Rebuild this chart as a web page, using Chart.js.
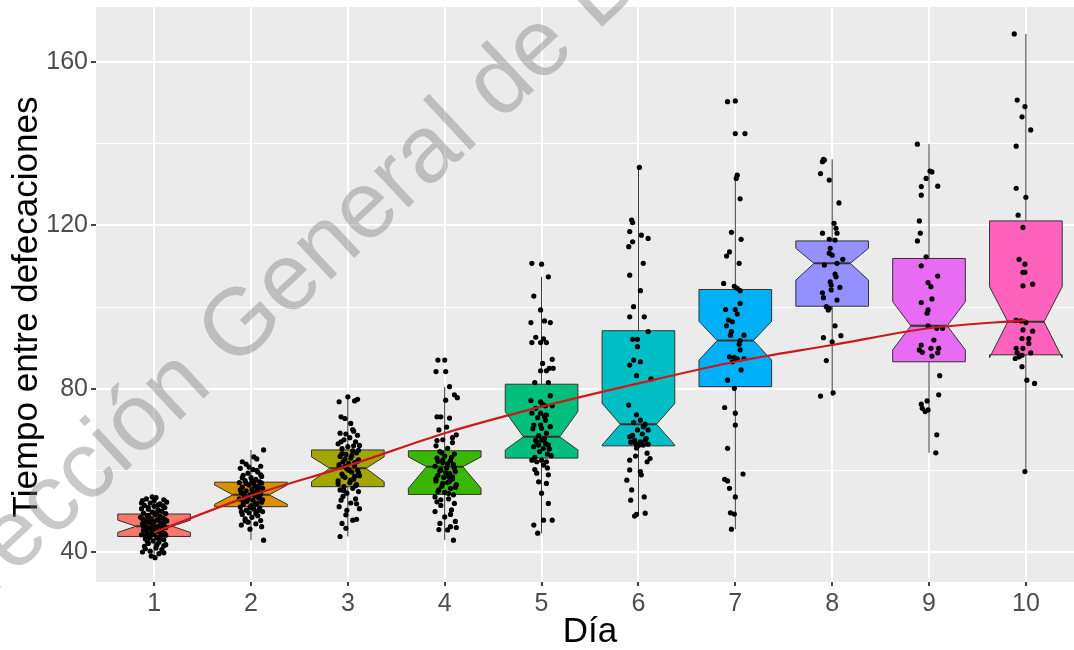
<!DOCTYPE html>
<html>
<head>
<meta charset="utf-8">
<script src="https://cdn.jsdelivr.net/npm/chart.js@4.4.1/dist/chart.umd.min.js"></script>
<style>
  html, body { margin: 0; padding: 0; background: #fff; overflow: hidden; }
  #wrap { position: relative; width: 1088px; height: 650px; }
  #ytitle {
    position: absolute; left: 25px; top: 307px;
    transform: translate(-50%, -50%) rotate(-90deg);
    font: 35px "Liberation Sans", Arial, sans-serif; color: #000; white-space: nowrap;
  }
  #wm {
    position: absolute; left: -130px; top: 600px;
    transform-origin: 0 0; transform: rotate(-43deg);
    font: 95px/1 "Liberation Sans", Arial, sans-serif; color: rgba(120,120,120,.4);
    white-space: nowrap; pointer-events: none;
  }
</style>
</head>
<body>
<div id="wrap">
  <canvas id="c"></canvas>
  <div id="ytitle">Tiempo entre defecaciones</div>
  <div id="wm">Dirección General de Bibliotecas</div>
</div>
<script>
// ── Data ────────────────────────────────────────────────
const days = [1, 2, 3, 4, 5, 6, 7, 8, 9, 10];
const yTicks = [40, 60, 80, 100, 120, 140, 160];
const yMajor = [40, 80, 120, 160];

const boxLow    = [43.8, 51.1, 56.0, 54.1, 63.0, 66.0, 80.5, 100.2, 86.6, 88.3];
const boxHigh   = [49.3, 57.1, 65.0, 64.8, 81.1, 94.2, 104.3, 116.2, 111.9, 121.1];
const medians   = [46.3, 54.0, 60.5, 60.9, 68.2, 71.3, 91.8, 110.7, 95.4, 96.4];
const notchLow  = [44.8, 51.7, 57.2, 55.6, 65.0, 66.2, 87.0, 106.6, 89.5, 87.6];
const notchHigh = [47.8, 56.4, 63.3, 63.3, 74.4, 76.4, 96.5, 114.4, 101.3, 105.0];
const whiskLow  = [38.6, 42.9, 43.8, 42.9, 44.6, 49.3, 45.6, 78.2, 64.3, 59.7];
const whiskHigh = [53.5, 65.0, 78.0, 80.5, 107.4, 134.2, 132.3, 136.2, 139.9, 166.9];

const smoothY = [44.8, 53.8, 61.1, 69.1, 75.6, 81.3, 86.6, 90.7, 94.8, 96.8];

// jittered observations: [offset from day, value]
const day1Pts = [[-0.08,53.0],[0.02,53.3],[-0.12,52.6],[0.10,52.8],[0.13,52.2],[-0.04,52.0],[0.06,51.8],[-0.10,51.4],[0.00,51.2],[0.11,50.9],[-0.13,50.6],[-0.06,50.5],[0.04,50.3],[0.08,50.0],[-0.02,49.8],[-0.11,49.5],[0.12,49.4],[0.01,49.1],[-0.07,48.9],[0.06,48.7],[-0.14,48.5],[0.09,48.3],[-0.03,48.1],[0.03,47.9],[-0.09,47.7],[0.13,47.6],[0.00,47.4],[-0.05,47.2],[0.07,47.0],[-0.12,46.9],[0.10,46.7],[-0.01,46.5],[0.04,46.3],[-0.08,46.1],[0.12,46.0],[-0.04,45.8],[0.02,45.6],[0.08,45.4],[-0.11,45.3],[-0.02,45.1],[0.05,44.9],[-0.07,44.7],[0.11,44.5],[0.00,44.3],[-0.13,44.2],[0.07,44.0],[-0.04,43.8],[0.03,43.5],[-0.09,43.2],[0.10,43.0],[-0.01,42.7],[0.05,42.4],[-0.06,42.1],[0.12,41.8],[-0.10,41.4],[0.02,41.0],[0.08,40.6],[-0.04,40.2],[-0.12,40.0],[0.05,39.6],[-0.03,39.0],[0.01,38.6],[-0.06,49.0],[0.09,45.8],[-0.09,44.0],[0.04,51.5],[0.10,41.5],[-0.02,53.5],
  [-0.10,47.0],[0.05,47.7],[-0.05,48.4],[0.11,48.0],[0.02,46.0],[-0.08,45.5],[0.07,45.1],[-0.02,44.6],[0.12,44.1],[-0.11,46.3],[0.03,49.6],[-0.06,50.9],[0.09,51.3],[-0.13,52.0],[0.00,52.5],[0.06,43.2],[-0.07,42.6],[0.03,41.8],[-0.09,40.8],[0.10,39.8],[-0.03,47.8],[0.08,46.9],[-0.12,48.1],[0.01,45.4],[-0.05,43.5]];
const day2Pts = [[0.13,65.0],[-0.09,62.1],[0.03,63.3],[0.06,62.8],[-0.05,61.5],[0.10,61.0],[-0.11,60.5],[0.02,60.2],[0.07,59.6],[-0.03,59.3],[-0.08,58.8],[0.11,58.5],[0.00,58.2],[0.05,57.8],[-0.06,57.5],[0.09,57.2],[-0.12,57.0],[0.03,56.7],[-0.02,56.4],[0.08,56.1],[-0.09,55.9],[0.12,55.6],[0.01,55.3],[-0.05,55.0],[0.06,54.8],[-0.10,54.5],[0.10,54.3],[-0.01,54.0],[0.04,53.7],[-0.07,53.5],[0.08,53.2],[-0.12,53.0],[0.02,52.7],[-0.04,52.4],[0.11,52.2],[0.06,51.9],[-0.08,51.6],[0.00,51.3],[-0.11,51.0],[0.09,50.8],[0.03,50.5],[-0.05,50.2],[0.12,49.9],[-0.02,49.6],[-0.09,49.2],[0.07,48.9],[0.01,48.5],[-0.06,48.1],[0.10,47.7],[-0.03,47.3],[-0.10,46.6],[0.05,46.9],[0.11,46.2],[-0.01,45.6],[0.13,42.9],[0.04,56.0],[-0.07,54.2],
  [-0.05,56.8],[0.07,55.3],[-0.11,55.2],[0.02,54.6],[0.09,53.8],[-0.03,53.1],[0.12,52.8],[-0.08,52.2],[0.04,51.7],[-0.01,50.9],[0.08,50.2],[-0.10,49.9],[0.05,49.4],[-0.06,47.6],[0.10,58.9],[-0.02,60.8],[0.06,60.0],[-0.09,58.2],[0.01,57.4],[0.11,56.9]];
const day3Pts = [[0.00,78.0],[-0.09,76.8],[0.07,77.0],[0.10,77.4],[-0.07,73.1],[-0.03,72.7],[0.05,70.0],[-0.08,69.1],[0.10,68.6],[0.02,68.0],[-0.04,67.5],[0.08,67.0],[-0.10,66.5],[0.12,66.1],[0.00,65.8],[-0.06,65.3],[0.05,64.8],[0.09,64.3],[-0.02,63.9],[-0.08,63.4],[0.03,63.0],[0.11,62.6],[-0.05,62.1],[0.01,61.7],[0.07,61.2],[-0.09,60.8],[-0.01,60.4],[0.10,60.0],[0.04,59.6],[-0.06,59.1],[0.12,58.7],[-0.03,58.3],[0.06,57.8],[-0.10,57.4],[0.02,57.0],[0.09,56.5],[-0.04,56.0],[-0.08,55.2],[0.05,55.6],[0.11,54.8],[-0.01,54.4],[-0.05,53.6],[0.08,53.0],[-0.07,52.7],[0.03,52.0],[-0.09,51.1],[0.12,50.6],[-0.02,49.1],[0.05,47.8],[0.09,48.0],[-0.06,47.0],[-0.02,45.8],[-0.08,43.8],[0.06,66.0],[-0.03,61.0],[0.07,58.5],
  [-0.06,64.1],[0.04,63.6],[0.10,62.2],[-0.03,62.7],[0.07,61.9],[-0.09,61.4],[0.01,60.0],[0.11,59.4],[-0.05,58.6],[0.03,57.6],[-0.10,56.7],[0.08,56.2],[-0.02,68.9],[0.06,69.6],[-0.07,67.0],[0.03,71.5],[0.11,64.9],[-0.04,55.0],[0.09,51.8],[-0.01,50.2]];
const day4Pts = [[-0.07,87.0],[0.00,87.0],[-0.09,84.2],[0.01,84.2],[0.05,80.5],[0.10,78.5],[0.13,77.8],[0.01,77.2],[-0.08,73.1],[-0.04,73.1],[0.05,72.8],[-0.06,69.9],[0.12,68.7],[-0.02,67.5],[0.08,66.8],[-0.09,66.0],[0.03,65.4],[-0.05,64.6],[0.10,64.0],[0.00,63.5],[-0.08,63.0],[0.06,62.4],[-0.02,61.9],[0.09,61.4],[-0.10,61.0],[0.02,60.6],[-0.04,60.1],[0.11,59.7],[0.05,59.2],[-0.07,58.8],[-0.01,58.3],[0.08,57.9],[-0.09,57.4],[0.03,57.0],[0.12,56.5],[-0.03,56.1],[0.06,55.6],[-0.06,55.2],[0.00,54.6],[0.09,54.0],[-0.10,53.5],[0.04,53.0],[-0.08,52.3],[0.10,51.9],[-0.04,51.4],[-0.10,49.9],[0.07,50.3],[0.00,48.6],[0.11,47.5],[0.06,46.2],[0.03,45.4],[-0.05,47.0],[0.09,42.9],[0.12,46.0],[-0.02,62.5],[0.04,58.5],
  [-0.03,64.3],[0.07,63.2],[-0.07,62.2],[0.03,61.6],[0.10,60.6],[-0.05,59.9],[0.01,59.4],[0.08,58.4],[-0.09,58.0],[0.05,57.3],[-0.02,56.8],[0.11,55.8],[-0.07,54.8],[0.04,54.3],[-0.04,52.8],[0.08,68.0],[-0.08,67.3],[0.02,70.6],[0.06,49.2],[-0.06,45.5]];
const day5Pts = [[-0.10,110.7],[0.00,110.5],[0.07,107.4],[-0.08,102.7],[-0.01,99.3],[0.03,96.6],[-0.11,96.2],[0.09,96.2],[-0.06,92.6],[0.02,92.2],[-0.10,91.3],[-0.01,91.3],[0.05,91.3],[0.11,87.2],[0.01,86.2],[0.08,85.0],[-0.01,84.4],[0.05,84.4],[0.12,85.0],[-0.07,81.5],[0.07,81.5],[-0.11,77.1],[-0.01,76.8],[0.04,75.8],[0.11,75.8],[-0.06,75.2],[-0.10,74.0],[-0.01,74.0],[0.04,72.3],[-0.08,71.1],[-0.01,71.1],[0.00,70.3],[0.09,70.7],[0.05,69.1],[-0.06,67.4],[0.00,67.4],[0.04,66.6],[-0.03,66.2],[0.07,66.2],[-0.08,65.8],[0.02,65.4],[-0.10,62.5],[-0.05,62.1],[0.00,62.5],[0.05,62.1],[0.02,61.3],[-0.05,59.3],[0.07,58.9],[-0.03,57.2],[0.05,56.8],[0.00,54.4],[0.07,51.9],[-0.08,46.6],[0.02,47.8],[0.11,47.8],[-0.04,44.6],[-0.03,68.5],[0.06,64.0],[-0.07,60.2],[0.03,73.2],
  [0.03,67.8],[-0.05,66.9],[0.08,65.2],[-0.02,64.6],[0.10,63.6],[-0.07,63.2],[0.05,73.6],[-0.04,72.9],[0.01,76.2],[0.09,78.3],[-0.09,70.2],[0.06,60.6]];
const day6Pts = [[0.01,134.2],[-0.07,121.3],[-0.06,120.7],[-0.09,118.5],[0.03,117.6],[0.10,116.8],[-0.10,114.8],[-0.06,116.0],[0.05,110.7],[-0.09,107.8],[0.02,104.0],[-0.05,100.1],[-0.09,97.6],[0.06,97.6],[0.10,94.0],[-0.06,92.1],[-0.01,92.1],[-0.01,90.3],[-0.05,87.0],[0.02,86.6],[-0.09,85.8],[-0.02,83.2],[0.13,82.4],[-0.10,76.0],[-0.02,73.6],[0.02,72.3],[-0.05,71.7],[0.07,71.3],[-0.01,69.9],[0.10,69.9],[-0.09,68.2],[-0.04,67.4],[0.02,67.0],[0.07,67.4],[-0.03,66.6],[0.05,66.2],[0.10,66.4],[0.09,64.2],[0.12,62.9],[0.09,62.1],[-0.09,62.5],[-0.09,60.1],[0.02,59.7],[0.03,58.9],[-0.12,57.6],[-0.07,55.2],[-0.08,52.7],[0.06,53.5],[-0.04,48.8],[-0.02,49.2],[0.07,49.5],
  [-0.06,68.6],[0.04,68.9],[0.00,66.0],[-0.08,66.9],[0.08,67.8],[-0.02,65.5],[0.05,70.7],[-0.03,63.5]];
const day7Pts = [[-0.08,150.3],[0.00,150.5],[0.00,142.5],[0.10,142.5],[0.02,132.3],[0.01,131.5],[0.05,126.5],[-0.04,118.3],[0.06,116.6],[-0.06,113.5],[-0.09,112.5],[0.04,110.7],[-0.12,105.8],[-0.01,105.1],[0.02,104.6],[0.05,104.0],[0.05,100.9],[-0.10,99.4],[0.00,99.4],[0.02,98.3],[-0.07,96.8],[-0.03,96.4],[-0.09,95.4],[-0.04,94.0],[0.09,93.1],[-0.05,93.1],[0.05,91.8],[0.04,90.9],[0.05,89.5],[-0.06,87.8],[-0.01,87.7],[0.02,87.3],[0.09,87.4],[-0.03,86.6],[0.06,84.6],[-0.08,82.1],[-0.01,80.1],[-0.11,75.4],[0.00,74.0],[0.00,71.1],[-0.08,65.4],[0.08,59.1],[-0.11,57.8],[-0.08,57.4],[-0.06,55.6],[0.00,53.5],[-0.05,49.6],[-0.01,49.3],[-0.04,45.6]];
const day8Pts = [[-0.10,135.6],[-0.08,136.0],[-0.09,136.2],[-0.12,132.7],[-0.03,131.1],[0.07,125.5],[0.02,120.5],[0.04,119.3],[0.05,118.1],[0.03,116.4],[-0.03,116.6],[-0.10,118.1],[-0.02,114.4],[-0.03,113.2],[0.00,112.7],[0.11,111.7],[-0.08,110.3],[0.05,110.7],[0.03,108.1],[0.04,107.4],[-0.02,106.2],[-0.01,105.4],[0.08,104.8],[-0.01,104.2],[-0.10,103.5],[-0.09,102.3],[0.05,101.7],[-0.06,100.1],[-0.04,99.3],[-0.03,99.7],[0.03,95.4],[-0.09,92.5],[0.09,93.0],[0.00,91.5],[-0.06,86.9],[-0.12,78.2],[0.01,79.0]];
const day9Pts = [[-0.12,139.9],[0.01,133.3],[0.03,133.1],[-0.03,131.5],[-0.08,129.5],[0.09,129.6],[-0.08,127.4],[-0.10,121.1],[-0.09,118.1],[-0.12,116.2],[-0.03,112.3],[-0.08,110.1],[0.09,107.6],[-0.01,106.0],[0.02,105.0],[0.03,102.0],[-0.08,101.1],[-0.01,99.3],[-0.02,98.5],[-0.01,95.4],[0.08,94.8],[0.14,94.8],[0.05,91.9],[-0.08,90.7],[-0.10,89.5],[-0.07,88.9],[0.02,89.9],[0.10,89.9],[0.09,88.8],[0.03,88.0],[0.11,83.2],[0.10,78.5],[-0.02,77.0],[-0.08,76.2],[-0.07,75.2],[-0.04,74.4],[-0.01,74.8],[0.08,68.7],[0.07,64.3]];
const day10Pts = [[-0.12,166.9],[-0.09,150.7],[-0.01,149.1],[-0.04,146.6],[0.05,143.4],[-0.10,139.4],[-0.10,129.1],[0.00,126.9],[-0.08,122.5],[-0.03,119.5],[-0.07,111.7],[-0.01,110.5],[-0.03,108.5],[-0.01,108.5],[-0.03,105.2],[0.07,105.6],[-0.10,96.8],[-0.05,96.6],[0.00,96.2],[-0.03,94.4],[0.07,94.1],[0.03,92.3],[-0.04,92.3],[0.03,91.1],[-0.03,89.9],[-0.10,89.9],[-0.09,88.8],[-0.04,88.2],[-0.07,87.8],[-0.11,87.4],[0.05,88.8],[-0.04,85.4],[0.01,82.1],[0.09,81.3],[-0.01,59.7]];

// ── Styles ──────────────────────────────────────────────
const boxColors = ['#F8766D', '#D89000', '#A3A500', '#39B600', '#00BF7D', '#00BFC4', '#00B0F6', '#9590FF', '#E76BF3', '#FF62BC'];
const FONT = '"Liberation Sans", Arial, sans-serif';
const BOX_HALF = 0.375, NOTCH_IN = 0.1875;

const allPts = [day1Pts, day2Pts, day3Pts, day4Pts, day5Pts, day6Pts, day7Pts, day8Pts, day9Pts, day10Pts];
const scatter = [];
allPts.forEach((pts, i) => pts.forEach(([dx, v]) => scatter.push({ x: days[i] + dx, y: v })));

// panel background
const panelBg = {
  id: 'panelBg',
  beforeDraw(ch) {
    const { ctx, chartArea: a } = ch;
    ctx.save(); ctx.fillStyle = '#EBEBEB';
    ctx.fillRect(a.left, a.top, a.right - a.left, a.bottom - a.top);
    ctx.restore();
  }
};

// notched boxes + whiskers, drawn through the chart scales
const notchBoxes = {
  id: 'notchBoxes',
  beforeDatasetsDraw(ch) {
    const { ctx, scales: { x, y } } = ch;
    ctx.save();
    days.forEach((d, i) => {
      const X = v => x.getPixelForValue(v), Y = v => y.getPixelForValue(v);
      ctx.strokeStyle = '#333'; ctx.lineWidth = 1;
      ctx.beginPath();
      ctx.moveTo(X(d), Y(whiskHigh[i])); ctx.lineTo(X(d), Y(boxHigh[i]));
      ctx.moveTo(X(d), Y(boxLow[i])); ctx.lineTo(X(d), Y(whiskLow[i]));
      ctx.stroke();
      const x0 = d - BOX_HALF, x1 = d + BOX_HALF;
      ctx.beginPath();
      ctx.moveTo(X(x0), Y(boxHigh[i]));
      ctx.lineTo(X(x0), Y(notchHigh[i]));
      ctx.lineTo(X(x0 + NOTCH_IN), Y(medians[i]));
      ctx.lineTo(X(x0), Y(notchLow[i]));
      ctx.lineTo(X(x0), Y(boxLow[i]));
      ctx.lineTo(X(x1), Y(boxLow[i]));
      ctx.lineTo(X(x1), Y(notchLow[i]));
      ctx.lineTo(X(x1 - NOTCH_IN), Y(medians[i]));
      ctx.lineTo(X(x1), Y(notchHigh[i]));
      ctx.lineTo(X(x1), Y(boxHigh[i]));
      ctx.closePath();
      ctx.fillStyle = boxColors[i]; ctx.fill(); ctx.stroke();
      ctx.lineWidth = 2;
      ctx.beginPath();
      ctx.moveTo(X(x0 + NOTCH_IN), Y(medians[i])); ctx.lineTo(X(x1 - NOTCH_IN), Y(medians[i]));
      ctx.stroke();
    });
    ctx.restore();
  }
};

new Chart(document.getElementById('c'), {
  type: 'scatter',
  data: {
    datasets: [
      { type: 'line', data: smoothY.map((v, i) => ({ x: days[i], y: v })), borderColor: '#cc1a1a', borderWidth: 2.2,
        pointRadius: 0, cubicInterpolationMode: 'monotone', fill: false, order: 0 },
      { data: scatter, backgroundColor: '#000', borderWidth: 0, pointRadius: 2.6, order: 1 }
    ]
  },
  options: {
    responsive: true, maintainAspectRatio: false, animation: false,
    layout: { padding: { top: 7, right: 0, bottom: 0, left: 0 } },
    plugins: { legend: { display: false }, tooltip: { enabled: false } },
    scales: {
      x: {
        type: 'linear', min: 0.4, max: 10.6,
        afterBuildTicks: s => { s.ticks = days.map(v => ({ value: v })); },
        afterFit: s => { s.height = 68; s.paddingLeft = 0; s.paddingRight = 0; },
        border: { display: false },
        grid: { color: '#fff', lineWidth: 2, tickColor: '#444', tickLength: 4 },
        ticks: { color: '#4D4D4D', font: { family: FONT, size: 25 }, padding: 3, maxRotation: 0, callback: v => v },
        title: { display: true, text: 'Día', color: '#000', font: { family: FONT, size: 35, lineHeight: 1 }, padding: 0 }
      },
      y: {
        min: 32.65, max: 173.5,
        afterBuildTicks: s => { s.ticks = yTicks.map(v => ({ value: v })); },
        afterFit: s => { s.width = 96; s.paddingTop = 0; s.paddingBottom = 0; },
        border: { display: false },
        grid: {
          color: '#fff', tickLength: 5,
          lineWidth: c => yMajor.includes(c.tick.value) ? 2 : 1,
          tickColor: c => yMajor.includes(c.tick.value) ? '#444' : 'rgba(0,0,0,0)'
        },
        ticks: { color: '#4D4D4D', font: { family: FONT, size: 25 }, padding: 3,
          callback: v => yMajor.includes(v) ? v : '' }
      }
    }
  },
  plugins: [panelBg, notchBoxes]
});
</script>
</body>
</html>
